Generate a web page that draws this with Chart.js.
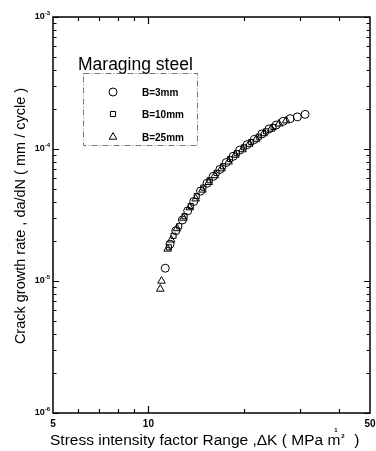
<!DOCTYPE html>
<html>
<head>
<meta charset="utf-8">
<script src="https://cdn.jsdelivr.net/npm/chart.js@4.4.0/dist/chart.umd.min.js"></script>
<style>
  html, body { margin: 0; padding: 0; background: #fff; }
</style>
</head>
<body>
<canvas id="crackChart" width="376" height="451"></canvas>
<script>
// series (delta K in MPa m^1/2, da/dN in mm/cycle)
const seriesLabels = ['B=3mm', 'B=10mm', 'B=25mm'];

const dK_3mm = [11.3, 11.7, 12.2, 12.8, 13.3, 13.9, 14.6, 15.3, 16.0, 16.8, 17.6, 18.5, 19.4, 20.5, 21.6, 22.8, 24.0, 25.3, 26.6, 28.0, 29.5, 31.2];
const rate_3mm = [1.25e-5, 1.9e-5, 2.4e-5, 2.9e-5, 3.4e-5, 4.0e-5, 4.8e-5, 5.5e-5, 6.2e-5, 7.0e-5, 7.9e-5, 8.8e-5, 9.8e-5, 1.08e-4, 1.18e-4, 1.30e-4, 1.42e-4, 1.52e-4, 1.62e-4, 1.70e-4, 1.75e-4, 1.83e-4];

const dK_10mm = [11.6, 12.0, 12.5, 13.0, 13.6, 14.2, 14.9, 15.6, 16.4, 17.2, 18.1, 19.0, 20.0, 21.1, 22.3, 23.5, 24.8];
const rate_10mm = [1.8e-5, 2.2e-5, 2.6e-5, 3.1e-5, 3.7e-5, 4.4e-5, 5.1e-5, 5.8e-5, 6.6e-5, 7.4e-5, 8.4e-5, 9.3e-5, 1.03e-4, 1.13e-4, 1.24e-4, 1.36e-4, 1.47e-4];

const dK_25mm = [10.9, 11.0, 11.5, 11.8, 12.3, 12.9, 13.5, 14.1, 14.8, 15.5, 16.2, 17.0, 17.9, 18.8, 19.8, 20.8, 21.9, 23.1, 24.4, 25.8, 27.2];
const rate_25mm = [8.7e-6, 1.0e-5, 1.75e-5, 2.05e-5, 2.5e-5, 3.0e-5, 3.6e-5, 4.2e-5, 4.9e-5, 5.6e-5, 6.3e-5, 7.1e-5, 8.0e-5, 9.0e-5, 9.9e-5, 1.09e-4, 1.19e-4, 1.31e-4, 1.42e-4, 1.55e-4, 1.64e-4];

// axis ticks
const xTickLabels = [5, 10, 50];
const xMinorTicks = [6, 7, 8, 9, 20, 30, 40];
const yTickValues = [1e-3, 1e-4, 1e-5, 1e-6];
const yTickExps = ['-3', '-4', '-5', '-6'];

const chartTitle = 'Maraging steel';
const xTitle = 'Stress intensity factor Range ,\u0394K ( MPa m';
const yTitle = 'Crack growth rate , da/dN ( mm / cycle )';

function toPoints(xs, ys) {
    return xs.map((x, i) => ({ x: x, y: ys[i] }));
}

const FONT = '"Liberation Sans", Arial, sans-serif';

// frame, inward ticks, labels and the boxed legend
const decorPlugin = {
    id: 'decor',
    afterDraw(chart) {
        const ctx = chart.ctx;
        const area = chart.chartArea;
        const xs = chart.scales.x;
        const ys = chart.scales.y;
        ctx.save();
        ctx.strokeStyle = '#000';
        ctx.fillStyle = '#000';

        // frame
        ctx.lineWidth = 1.5;
        ctx.strokeRect(area.left, area.top, area.right - area.left, area.bottom - area.top);

        // x ticks (bottom and top)
        ctx.lineWidth = 1.2;
        const xTick = (v, len) => {
            const px = Math.round(xs.getPixelForValue(v)) + 0.5;
            ctx.beginPath();
            ctx.moveTo(px, area.bottom); ctx.lineTo(px, area.bottom - len);
            ctx.moveTo(px, area.top); ctx.lineTo(px, area.top + len);
            ctx.stroke();
        };
        xMinorTicks.forEach(v => xTick(v, 4));
        xTick(10, 7);

        // y ticks (left and right)
        const yTick = (v, len) => {
            const py = Math.round(ys.getPixelForValue(v)) + 0.5;
            ctx.beginPath();
            ctx.moveTo(area.left, py); ctx.lineTo(area.left + len, py);
            ctx.moveTo(area.right, py); ctx.lineTo(area.right - len, py);
            ctx.stroke();
        };
        yTickValues.forEach(v => {
            yTick(v, 6);
            if (v < 1e-3) {
                for (let m = 2; m <= 9; m++) yTick(v * m, 3.5);
            }
        });

        // x tick labels
        ctx.font = 'bold 10px ' + FONT;
        ctx.textAlign = 'center';
        ctx.textBaseline = 'middle';
        xTickLabels.forEach(v => {
            ctx.fillText(String(v), xs.getPixelForValue(v), area.bottom + 11);
        });

        // y tick labels 10^n
        yTickValues.forEach((v, i) => {
            const py = ys.getPixelForValue(v);
            ctx.font = 'bold 6px ' + FONT;
            ctx.textAlign = 'right';
            const expW = ctx.measureText(yTickExps[i]).width;
            ctx.fillText(yTickExps[i], area.left - 3, py - 4);
            ctx.font = 'bold 9px ' + FONT;
            ctx.fillText('10', area.left - 3 - expW, py);
        });

        // axis titles
        ctx.font = '15.5px ' + FONT;
        ctx.textAlign = 'left';
        ctx.textBaseline = 'alphabetic';
        const xw = ctx.measureText(xTitle).width;
        const tx = 50;
        ctx.fillText(xTitle, tx, 445);
        ctx.font = 'bold 6px ' + FONT;
        ctx.fillText('1', tx + xw - 6, 432);
        ctx.fillText('2', tx + xw + 1, 438);
        ctx.font = '15.5px ' + FONT;
        ctx.fillText(')', tx + xw + 14, 445);

        ctx.save();
        ctx.translate(25, 216);
        ctx.rotate(-Math.PI / 2);
        ctx.textAlign = 'center';
        ctx.font = '14.5px ' + FONT;
        ctx.fillText(yTitle, 0, 0);
        ctx.restore();

        // chart title
        ctx.font = '17.5px ' + FONT;
        ctx.textAlign = 'left';
        ctx.textBaseline = 'middle';
        ctx.fillText(chartTitle, 78, 65);

        // legend box
        ctx.lineWidth = 0.8;
        ctx.strokeStyle = '#555';
        ctx.setLineDash([6, 2, 1, 2]);
        ctx.strokeRect(83.5, 73.5, 114, 72);
        ctx.setLineDash([]);
        ctx.strokeStyle = '#000';
        ctx.lineWidth = 1;
        const legendY = [92, 114, 137];
        chart.data.datasets.forEach((ds, i) => {
            ctx.fillStyle = 'rgba(255,255,255,0)';
            Chart.helpers.drawPoint(ctx, {
                pointStyle: ds.pointStyle,
                radius: ds.pointRadius,
                borderWidth: 1
            }, 113, legendY[i]);
            ctx.fillStyle = '#000';
            ctx.font = 'bold 10px ' + FONT;
            ctx.fillText(ds.label, 142, legendY[i] + 1);
        });

        ctx.restore();
    }
};

const ctx = document.getElementById('crackChart').getContext('2d');
const markerStyles = ['circle', 'rect', 'triangle'];
const markerRadius = [4, 3.6, 4.4];

new Chart(ctx, {
    type: 'scatter',
    data: {
        datasets: [
            { label: seriesLabels[0], data: toPoints(dK_3mm, rate_3mm) },
            { label: seriesLabels[1], data: toPoints(dK_10mm, rate_10mm) },
            { label: seriesLabels[2], data: toPoints(dK_25mm, rate_25mm) }
        ].map((ds, i) => Object.assign(ds, {
            pointStyle: markerStyles[i],
            pointRadius: markerRadius[i],
            pointBorderWidth: 1,
            borderColor: '#000',
            backgroundColor: 'rgba(255,255,255,0)'
        }))
    },
    options: {
        responsive: false,
        animation: false,
        layout: {
            padding: { left: 53, right: 6, top: 17, bottom: 38 }
        },
        scales: {
            x: { type: 'logarithmic', min: 5, max: 50, display: false },
            y: { type: 'logarithmic', min: 1e-6, max: 1e-3, display: false }
        },
        plugins: {
            legend: { display: false },
            tooltip: { enabled: false }
        }
    },
    plugins: [decorPlugin]
});
</script>
</body>
</html>
